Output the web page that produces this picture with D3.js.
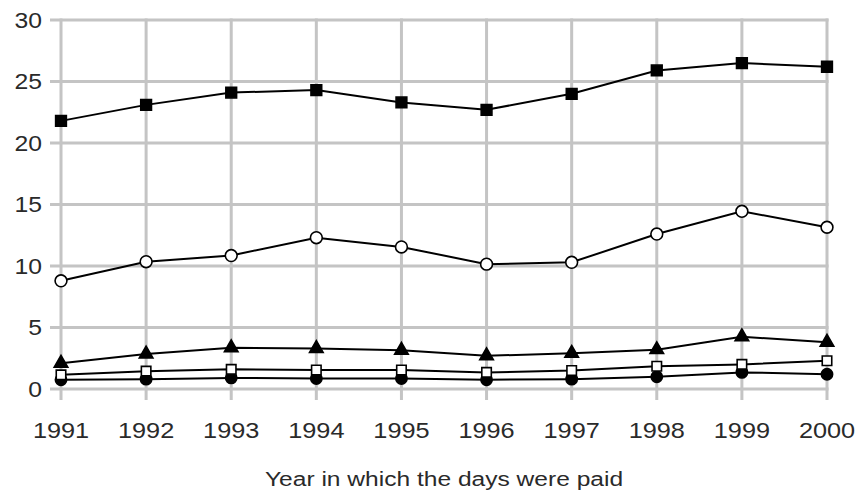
<!DOCTYPE html>
<html><head><meta charset="utf-8">
<script src="https://cdn.jsdelivr.net/npm/d3@7"></script>
<style>body{margin:0;background:#fff}svg{display:block}text{font-family:"Liberation Sans",Arial,sans-serif;fill:#2a2a2a}</style>
</head><body><svg id="c" width="859" height="494"></svg>
<script>
const years = [1991,1992,1993,1994,1995,1996,1997,1998,1999,2000];
const yTicks = [0,5,10,15,20,25,30];
const filledSquare = [21.8,23.1,24.1,24.3,23.3,22.7,24.0,25.9,26.5,26.2];
const openCircle = [8.8,10.35,10.85,12.3,11.55,10.15,10.3,12.6,14.45,13.15];
const filledTriangle = [2.1,2.85,3.35,3.3,3.15,2.7,2.9,3.2,4.25,3.8];
const openSquare = [1.15,1.45,1.6,1.55,1.55,1.35,1.5,1.85,2.0,2.3];
const filledCircle = [0.75,0.8,0.9,0.85,0.85,0.75,0.8,1.0,1.35,1.2];
const xLabel = "Year in which the days were paid";

const svg = d3.select("#c");
const L = 61, R = 827, T = 20, B = 389;
const x = d3.scalePoint().domain(years).range([L, R]);
const y = d3.scaleLinear().domain([0, 30]).range([B, T]);
const grid = "#c4c4c4";
const sx = 1.15;

svg.append("g").selectAll("line").data(years).join("line")
  .attr("x1", d => x(d)).attr("x2", d => x(d)).attr("y1", T - 1.5).attr("y2", B + 11)
  .attr("stroke", grid).attr("stroke-width", 3);
svg.append("g").selectAll("line").data(yTicks).join("line")
  .attr("x1", L - 11).attr("x2", R + 1.5).attr("y1", d => y(d)).attr("y2", d => y(d))
  .attr("stroke", grid).attr("stroke-width", 3);

svg.append("g").selectAll("text").data(yTicks).join("text")
  .attr("transform", d => `translate(42,${y(d)}) scale(${sx},1)`)
  .attr("dy", "0.36em").attr("text-anchor", "end")
  .attr("font-size", 21.5).text(d => d);
svg.append("g").selectAll("text").data(years).join("text")
  .attr("transform", d => `translate(${x(d)},438) scale(${sx},1)`)
  .attr("text-anchor", "middle")
  .attr("font-size", 22).text(d => d);
svg.append("text").attr("transform", `translate(${(L + R) / 2},486) scale(1.17,1)`)
  .attr("text-anchor", "middle")
  .attr("font-size", 21).text(xLabel);

const line = d3.line().x((d, i) => x(years[i])).y(d => y(d));
const series = [
  {v: filledCircle, sym: d3.symbolCircle, size: 100, fill: "#000"},
  {v: openSquare, sym: d3.symbolSquare, size: 90, fill: "#fff"},
  {v: filledTriangle, sym: d3.symbolTriangle, size: 80, fill: "#000"},
  {v: openCircle, sym: d3.symbolCircle, size: 110, fill: "#fff"},
  {v: filledSquare, sym: d3.symbolSquare, size: 115, fill: "#000"}
];
series.forEach(s => {
  svg.append("path").datum(s.v).attr("d", line).attr("fill", "none")
    .attr("stroke", "#000").attr("stroke-width", 2);
});
series.forEach(s => {
  svg.append("g").selectAll("path").data(s.v).join("path")
    .attr("transform", (d, i) => `translate(${x(years[i])},${y(d)})`)
    .attr("d", d3.symbol().type(s.sym).size(s.size))
    .attr("fill", s.fill).attr("stroke", "#000").attr("stroke-width", 1.6);
});
</script></body></html>
